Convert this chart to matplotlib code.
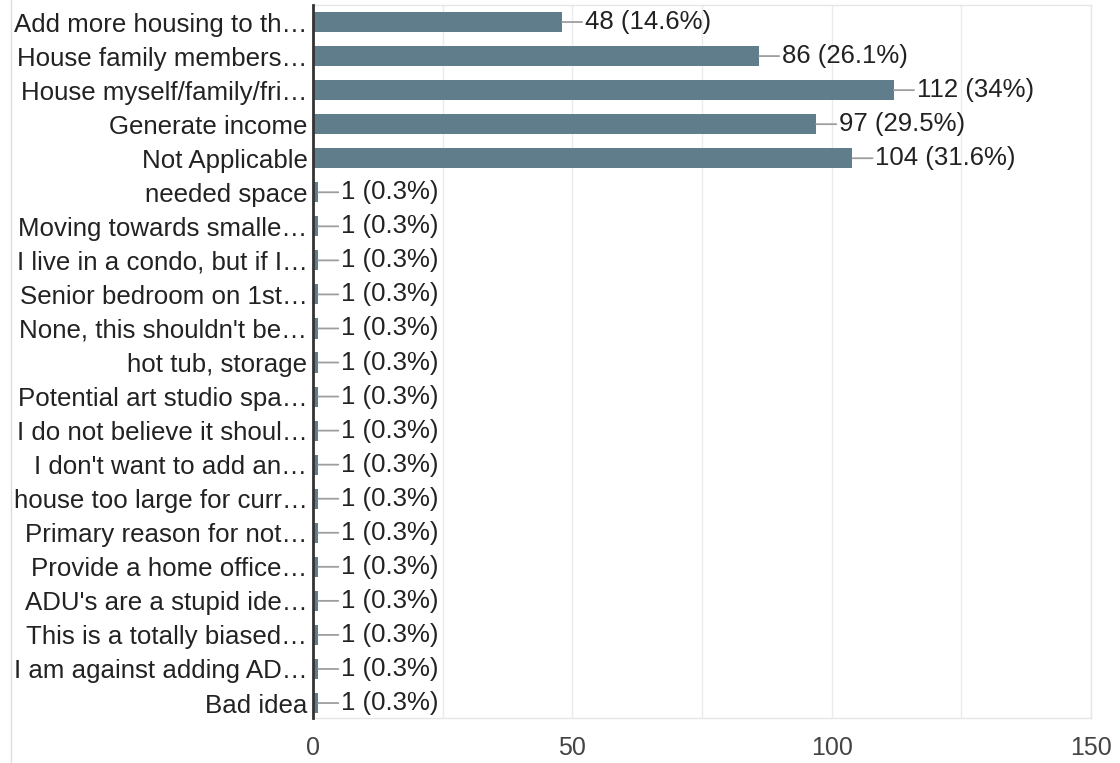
import matplotlib
matplotlib.use("Agg")
import matplotlib.pyplot as plt
from matplotlib.lines import Line2D

plt.rcParams["font.family"] = ["Liberation Sans", "DejaVu Sans"]

# Survey answers (truncated as in the original chart)
labels = [
    "Add more housing to th…",
    "House family members…",
    "House myself/family/fri…",
    "Generate income",
    "Not Applicable",
    "needed space",
    "Moving towards smalle…",
    "I live in a condo, but if I…",
    "Senior bedroom on 1st…",
    "None, this shouldn't be…",
    "hot tub, storage",
    "Potential art studio spa…",
    "I do not believe it shoul…",
    "I don't want to add an…",
    "house too large for curr…",
    "Primary reason for not…",
    "Provide a home office…",
    "ADU's are a stupid ide…",
    "This is a totally biased…",
    "I am against adding AD…",
    "Bad idea",
]
counts = [48, 86, 112, 97, 104] + [1] * 16
percents = ["14.6%", "26.1%", "34%", "29.5%", "31.6%"] + ["0.3%"] * 16
x_ticks = [0, 50, 100, 150]

W, H = 1120, 763
fig = plt.figure(figsize=(W / 100, H / 100), dpi=100)
ax = fig.add_axes([313 / W, 1 - 718 / H, (1091 - 313) / W, (718 - 5) / H])

ypos = list(range(len(labels)))
ax.barh(ypos, counts, height=0.59, color="#607d8b", zorder=3)

for y, c, p in zip(ypos, counts, percents):
    ax.annotate(f"{c} ({p})", xy=(c, y), xytext=(16.5, 0), textcoords="offset points",
                ha="left", va="center", fontsize=18.5, color="#222222",
                arrowprops=dict(arrowstyle="-", color="#9e9e9e", lw=1.3,
                                shrinkA=0, shrinkB=0))

ax.set_xlim(0, 150)
ax.set_ylim(20.44, -0.5)
ax.set_yticks(ypos)
ax.set_yticklabels(labels, fontsize=18.6, color="#222222")
ax.set_xticks(x_ticks)
ax.set_xticklabels([str(t) for t in x_ticks], fontsize=18, color="#444444")
ax.set_xticks(range(25, 150, 25), minor=True)
ax.tick_params(axis="both", which="both", length=0)
ax.tick_params(axis="y", pad=4)
ax.tick_params(axis="x", pad=13)
ax.grid(axis="x", which="both", color="#ebebeb", lw=1, zorder=0)

for side in ["top", "right", "bottom"]:
    ax.spines[side].set_color("#e6e6e6")
    ax.spines[side].set_linewidth(1)
ax.spines["left"].set_color("#333333")
ax.spines["left"].set_linewidth(2)
ax.spines["left"].set_zorder(4)

# faint frame line on the far left
fig.add_artist(Line2D([10.5 / W, 10.5 / W], [0, 1], color="#dddddd", lw=1))

fig.savefig("out.png", dpi=100)
